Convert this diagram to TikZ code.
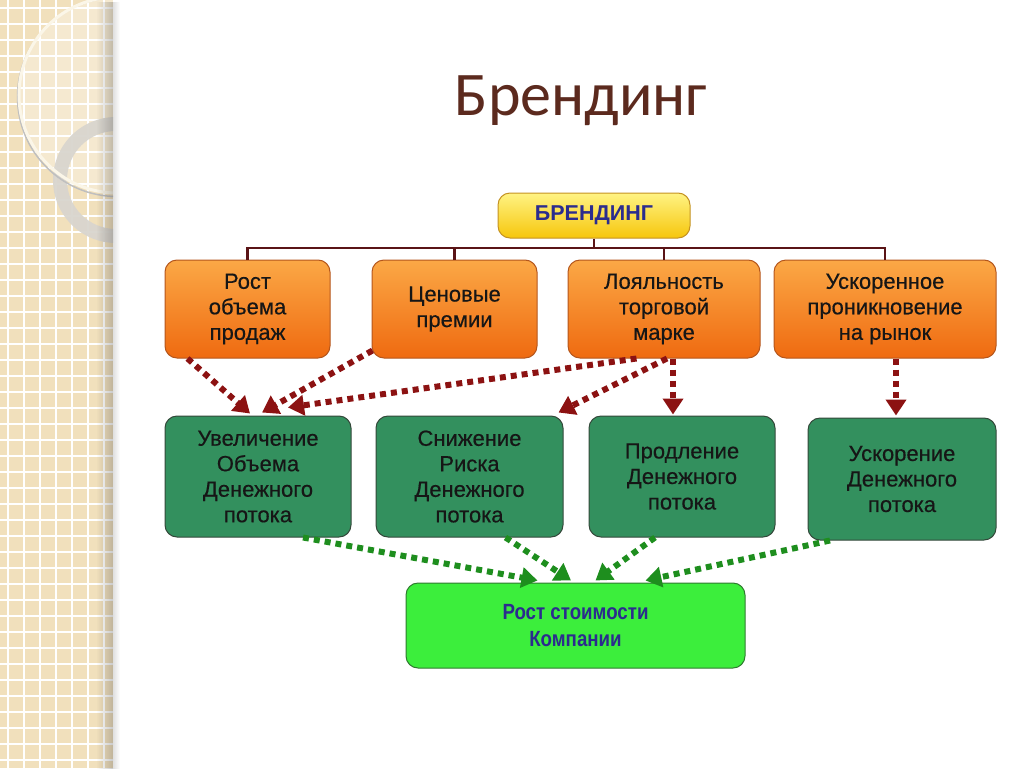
\documentclass[tikz,border=0pt]{standalone}
\usepackage{fontspec}
\setmainfont{Liberation Sans}
\newfontfamily\titlefont{Carlito}
\newfontfamily\boxfont{Liberation Sans}[FakeBold=0.4]
\newfontfamily\goalfont{Liberation Sans}[FakeStretch=0.85]
\usetikzlibrary{arrows.meta,fadings}

\definecolor{stripbg}{HTML}{F1E0BC}
\definecolor{ringcream}{HTML}{FBF6E8}
\definecolor{ringgray}{HTML}{D9D5CE}
\definecolor{titlebrown}{HTML}{5C2A1E}
\definecolor{topup}{HTML}{FFF383}
\definecolor{topdown}{HTML}{F6C60C}
\definecolor{topedge}{HTML}{C49222}
\definecolor{navytext}{HTML}{2B2C8E}
\definecolor{orangeup}{HTML}{FBA846}
\definecolor{orangedown}{HTML}{EF6A10}
\definecolor{orangeedge}{HTML}{B4561C}
\definecolor{flowfill}{HTML}{33905E}
\definecolor{flowedge}{HTML}{34483A}
\definecolor{flowtext}{HTML}{161616}
\definecolor{goalfill}{HTML}{3CEE3C}
\definecolor{goaledge}{HTML}{2F7A2F}
\definecolor{treeline}{HTML}{5A1416}
\definecolor{redarr}{HTML}{8C1212}
\definecolor{greenarr}{HTML}{1E8E1E}

\begin{document}
\begin{tikzpicture}[x=1pt,y=-1pt,
	box/.style={rounded corners=12pt, align=center, inner sep=0pt, font=\boxfont\fontsize{22}{25.5}\selectfont},
	topbox/.style={box, draw=topedge, line width=1pt, top color=topup, bottom color=topdown, minimum width=192pt, minimum height=45pt, text=navytext, font=\fontsize{21.5}{24}\selectfont\bfseries},
	effect/.style={box, draw=orangeedge, line width=1pt, top color=orangeup, bottom color=orangedown, minimum height=98pt, text=flowtext},
	flow/.style={box, draw=flowedge, line width=1pt, fill=flowfill, minimum height=121pt, text=flowtext},
	goal/.style={box, draw=goaledge, line width=1pt, fill=goalfill, minimum width=339pt, minimum height=85pt, text=navytext, font=\goalfont\fontsize{22}{27}\selectfont\bfseries},
	tree/.style={draw=treeline, line width=2.5pt},
	redlink/.style={draw=redarr, line width=6pt, dash pattern=on 6pt off 5pt, -{Triangle[width=20pt,length=16pt]}},
	greenlink/.style={draw=greenarr, line width=6pt, dash pattern=on 6pt off 5pt, -{Triangle[width=20pt,length=16pt]}},
	gridline/.style={white, line width=1.2pt}]
	\useasboundingbox (0,0) rectangle (1024,768);

	\fill[stripbg] (0,0) rectangle (113,768);
	\foreach \g in {8,24,...,104} \draw[gridline] (\g,0) -- (\g,768);
	\foreach \g in {8,24,...,760} \draw[gridline] (0,\g) -- (113,\g);
	\begin{scope}
		\clip (0,0) rectangle (113,768);
		\fill[white, opacity=0.3] (118,95) circle[radius=98pt];
		\fill[ringgray, opacity=0.95, even odd rule] (116,180) circle[radius=63pt] (116,180) circle[radius=49pt];
		\draw[black!25, line width=1.5pt] (117,97) circle[radius=99.5pt];
		\draw[ringcream, line width=3pt] (117,95) circle[radius=98pt];
	\end{scope}
	\fill[black!70, path fading=west, fill opacity=0.3] (96,0) rectangle (113,768);
	\fill[black, path fading=east, fill opacity=0.12] (113,0) rectangle (120,768);

	\node[text=titlebrown, anchor=base, font=\titlefont\fontsize{62}{62}\selectfont] (heading) at (581,115) {Брендинг};

	\node[topbox] (brand) at (594,215.5) {БРЕНДИНГ};

	\node[effect, minimum width=165pt] (sales) at (247.5,309) {Рост\\объема\\продаж};
	\node[effect, minimum width=165pt] (premium) at (454.5,309) {Ценовые\\премии};
	\node[effect, minimum width=192pt] (loyal) at (664,309) {Лояльность\\торговой\\марке};
	\node[effect, minimum width=222pt] (market) at (885,309) {Ускоренное\\проникновение\\на рынок};

	\node[flow, minimum width=186pt] (volume) at (258,476.5) {Увеличение\\Объема\\Денежного\\потока};
	\node[flow, minimum width=187pt] (risk) at (469.5,476.5) {Снижение\\Риска\\Денежного\\потока};
	\node[flow, minimum width=186pt] (prolong) at (682,476.5) {Продление\\Денежного\\потока};
	\node[flow, minimum width=188pt, minimum height=122pt] (pace) at (902,479) {Ускорение\\Денежного\\потока};

	\node[goal] (value) at (575.5,625.5) {Рост стоимости\\Компании};

	\coordinate (bar) at (594,248);
	\draw[tree] (brand.south) -- (bar);
	\draw[tree] (bar) -| (sales.north);
	\draw[tree] (bar) -| (premium.north);
	\draw[tree] (bar) -| (loyal.north);
	\draw[tree] (bar) -| (market.north);

	\draw[redlink] ([xshift=23pt]sales.south west) -- ([xshift=-8pt,yshift=2pt]volume.north);
	\draw[redlink] ([xshift=1pt,yshift=8pt]premium.south west) -- ([xshift=4pt,yshift=3pt]volume.north);
	\draw[redlink] ([xshift=69pt]loyal.south west) -- ([xshift=30pt,yshift=8pt]volume.north);
	\draw[redlink] ([xshift=3pt]loyal.south) -- ([xshift=-5pt,yshift=3pt]risk.north east);
	\draw[redlink] ([xshift=9pt]loyal.south) -- ([xshift=-9pt,yshift=1pt]prolong.north);
	\draw[redlink] ([xshift=11pt]market.south) -- ([xshift=-6pt,yshift=2pt]pace.north);

	\draw[greenlink] ([xshift=45pt]volume.south) -- ([xshift=-38pt,yshift=2pt]value.north);
	\draw[greenlink] ([xshift=36pt]risk.south) -- ([xshift=-4.5pt,yshift=2pt]value.north);
	\draw[greenlink] ([xshift=-27pt]prolong.south) -- ([xshift=20pt,yshift=2pt]value.north);
	\draw[greenlink] ([xshift=-72pt]pace.south) -- ([xshift=70pt,yshift=2pt]value.north);

\end{tikzpicture}
\end{document}
